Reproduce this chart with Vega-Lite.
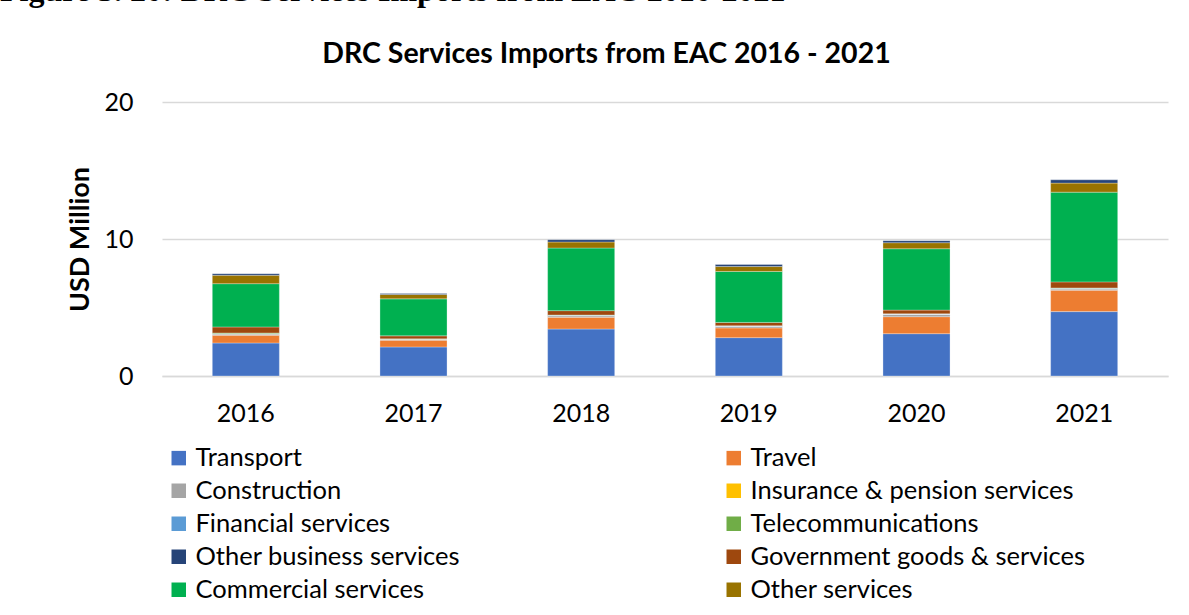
{
  "$schema": "https://vega.github.io/schema/vega-lite/v6.json",
  "autosize": "none",
  "width": 1006,
  "height": 274,
  "padding": {"left": 162, "top": 102, "right": 21, "bottom": 239},
  "background": "white",
  "title": {
    "text": "Figure 3. 20: DRC Services Imports from EAC 2016-2021",
    "anchor": "start",
    "frame": "group",
    "dx": -162,
    "offset": 6,
    "baseline": "alphabetic",
    "font": "Liberation Serif",
    "fontSize": 32,
    "fontWeight": "bold",
    "color": "#000000"
  },
  "config": {
    "view": {"stroke": null},
    "font": "Lato"
  },
  "data": {
    "values": [
      {"year": "2016", "category": "Transport", "value": 2.41},
      {"year": "2016", "category": "Travel", "value": 0.56},
      {"year": "2016", "category": "Construction", "value": 0.1},
      {"year": "2016", "category": "Insurance & pension services", "value": 0},
      {"year": "2016", "category": "Financial services", "value": 0.02},
      {"year": "2016", "category": "Telecommunications", "value": 0.05},
      {"year": "2016", "category": "Government goods & services", "value": 0.44},
      {"year": "2016", "category": "Commercial services", "value": 3.16},
      {"year": "2016", "category": "Other services", "value": 0.61},
      {"year": "2016", "category": "Other business services", "value": 0.12},
      {"year": "2017", "category": "Transport", "value": 2.12},
      {"year": "2017", "category": "Travel", "value": 0.49},
      {"year": "2017", "category": "Construction", "value": 0.07},
      {"year": "2017", "category": "Insurance & pension services", "value": 0},
      {"year": "2017", "category": "Financial services", "value": 0.01},
      {"year": "2017", "category": "Telecommunications", "value": 0.02},
      {"year": "2017", "category": "Government goods & services", "value": 0.22},
      {"year": "2017", "category": "Commercial services", "value": 2.7},
      {"year": "2017", "category": "Other services", "value": 0.32},
      {"year": "2017", "category": "Other business services", "value": 0.07},
      {"year": "2018", "category": "Transport", "value": 3.43},
      {"year": "2018", "category": "Travel", "value": 0.85},
      {"year": "2018", "category": "Construction", "value": 0.12},
      {"year": "2018", "category": "Insurance & pension services", "value": 0},
      {"year": "2018", "category": "Financial services", "value": 0.03},
      {"year": "2018", "category": "Telecommunications", "value": 0.02},
      {"year": "2018", "category": "Government goods & services", "value": 0.32},
      {"year": "2018", "category": "Commercial services", "value": 4.57},
      {"year": "2018", "category": "Other services", "value": 0.44},
      {"year": "2018", "category": "Other business services", "value": 0.17},
      {"year": "2019", "category": "Transport", "value": 2.8},
      {"year": "2019", "category": "Travel", "value": 0.71},
      {"year": "2019", "category": "Construction", "value": 0.12},
      {"year": "2019", "category": "Insurance & pension services", "value": 0},
      {"year": "2019", "category": "Financial services", "value": 0.02},
      {"year": "2019", "category": "Telecommunications", "value": 0.02},
      {"year": "2019", "category": "Government goods & services", "value": 0.24},
      {"year": "2019", "category": "Commercial services", "value": 3.72},
      {"year": "2019", "category": "Other services", "value": 0.36},
      {"year": "2019", "category": "Other business services", "value": 0.15},
      {"year": "2020", "category": "Transport", "value": 3.09},
      {"year": "2020", "category": "Travel", "value": 1.24},
      {"year": "2020", "category": "Construction", "value": 0.17},
      {"year": "2020", "category": "Insurance & pension services", "value": 0},
      {"year": "2020", "category": "Financial services", "value": 0.02},
      {"year": "2020", "category": "Telecommunications", "value": 0.02},
      {"year": "2020", "category": "Government goods & services", "value": 0.27},
      {"year": "2020", "category": "Commercial services", "value": 4.48},
      {"year": "2020", "category": "Other services", "value": 0.44},
      {"year": "2020", "category": "Other business services", "value": 0.15},
      {"year": "2021", "category": "Transport", "value": 4.7},
      {"year": "2021", "category": "Travel", "value": 1.56},
      {"year": "2021", "category": "Construction", "value": 0.1},
      {"year": "2021", "category": "Insurance & pension services", "value": 0},
      {"year": "2021", "category": "Financial services", "value": 0.05},
      {"year": "2021", "category": "Telecommunications", "value": 0.02},
      {"year": "2021", "category": "Government goods & services", "value": 0.44},
      {"year": "2021", "category": "Commercial services", "value": 6.55},
      {"year": "2021", "category": "Other services", "value": 0.66},
      {"year": "2021", "category": "Other business services", "value": 0.24}
    ]
  },
  "transform": [
    {"calculate": "indexof(['Transport','Travel','Construction','Insurance & pension services','Financial services','Telecommunications','Government goods & services','Commercial services','Other services','Other business services'], datum.category)", "as": "stackOrder"}
  ],
  "resolve": {"axis": {"x": "independent"}},
  "layer": [
    {
      "mark": {"type": "bar", "stroke": "white", "strokeWidth": 0.5, "strokeOpacity": 0.6},
      "encoding": {
        "x": {
          "field": "year",
          "type": "nominal",
          "scale": {"paddingInner": 0.6, "paddingOuter": 0.3},
          "axis": {
            "title": null,
            "labelAngle": 0,
            "labelFontSize": 25,
            "labelColor": "#000000",
            "labelPadding": 25,
            "ticks": false,
            "domainColor": "#d9d9d9",
            "domainWidth": 1.5
          }
        },
        "y": {
          "field": "value",
          "type": "quantitative",
          "stack": "zero",
          "scale": {"domain": [0, 20], "nice": false},
          "axis": {
            "values": [0, 10, 20],
            "title": "USD Million",
            "titleFontSize": 27,
            "titleFontWeight": "bold",
            "titleColor": "#000000",
            "titlePadding": 9,
            "labelFontSize": 25,
            "labelColor": "#000000",
            "labelPadding": 29,
            "ticks": false,
            "domain": false,
            "gridColor": "#d9d9d9",
            "gridWidth": 1.5
          }
        },
        "color": {
          "field": "category",
          "type": "nominal",
          "sort": ["Transport", "Construction", "Financial services", "Other business services", "Commercial services", "Travel", "Insurance & pension services", "Telecommunications", "Government goods & services", "Other services"],
          "scale": {
            "domain": ["Transport", "Construction", "Financial services", "Other business services", "Commercial services", "Travel", "Insurance & pension services", "Telecommunications", "Government goods & services", "Other services"],
            "range": ["#4472C4", "#A5A5A5", "#5B9BD5", "#264478", "#00B050", "#ED7D31", "#FFC000", "#70AD47", "#9E480E", "#997300"]
          },
          "legend": {
            "orient": "none",
            "legendX": 4,
            "legendY": 343,
            "columns": 2,
            "columnPadding": 261,
            "rowPadding": 6,
            "title": null,
            "symbolType": "square",
            "symbolSize": 210,
            "symbolStrokeWidth": 0,
            "labelFontSize": 25.5,
            "labelColor": "#000000",
            "labelOffset": 4,
            "labelLimit": 0,
            "padding": 0
          }
        },
        "order": {"field": "stackOrder", "type": "quantitative"}
      }
    },
    {
      "mark": {"type": "rule", "opacity": 0},
      "encoding": {
        "x": {
          "field": "year",
          "type": "nominal",
          "axis": {
            "orient": "top",
            "labels": false,
            "ticks": false,
            "domain": false,
            "grid": false,
            "title": "DRC Services Imports from EAC 2016 - 2021",
            "titleX": 444,
            "titleY": -40,
            "titleAlign": "center",
            "titleAnchor": null,
            "titleBaseline": "alphabetic",
            "titleFontSize": 28.5,
            "titleFontWeight": "bold",
            "titleColor": "#000000"
          }
        }
      }
    }
  ]
}
